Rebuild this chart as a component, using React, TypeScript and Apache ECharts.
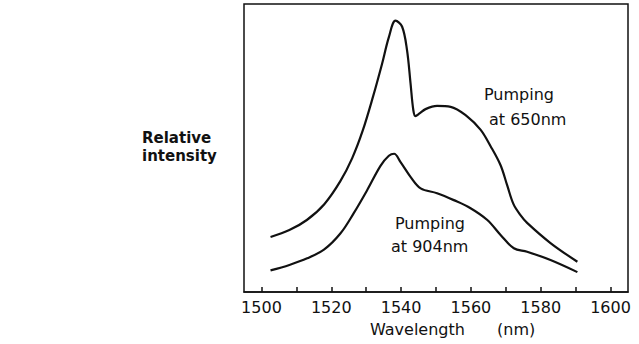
import React, { useEffect, useRef } from "react";
import * as echarts from "echarts";

const wavelength650 = [1502.6, 1508.0, 1513.0, 1518.0, 1522.6, 1526.0, 1529.0, 1532.0, 1534.5, 1536.5, 1538.4, 1540.3, 1541.7, 1542.7, 1543.5, 1544.1, 1545.3, 1547.0, 1550.3, 1554.2, 1558.9, 1562.8, 1565.6, 1568.5, 1570.4, 1572.2, 1574.2, 1576.1, 1582.8, 1590.5];
const intensity650 = [19.1, 21.5, 25.0, 30.5, 38.5, 46.5, 56.0, 68.0, 79.0, 88.5, 94.2, 92.1, 84.0, 72.5, 63.2, 61.1, 62.0, 63.5, 64.6, 64.3, 61.0, 56.3, 50.7, 44.0, 37.0, 30.5, 26.7, 24.0, 17.0, 10.5];
const wavelength904 = [1502.6, 1508.0, 1513.1, 1518.0, 1522.6, 1526.4, 1530.3, 1534.1, 1536.5, 1538.0, 1539.8, 1542.7, 1545.6, 1550.3, 1555.1, 1559.9, 1564.7, 1568.5, 1572.3, 1576.1, 1582.8, 1590.5];
const intensity904 = [7.5, 9.4, 11.7, 14.8, 20.3, 27.3, 35.4, 43.8, 47.3, 48.0, 45.2, 40.0, 36.0, 34.3, 31.9, 29.1, 25.0, 19.8, 15.2, 14.0, 11.1, 6.9];
const tickValues = [1500, 1510, 1520, 1530, 1540, 1550, 1560, 1570, 1580, 1590, 1600];
const labelValues = [1500, 1520, 1540, 1560, 1580, 1600];

const FONT = "DejaVu Sans";
const INK = "#111";

export default function App() {
  const ref = useRef<HTMLDivElement>(null);
  useEffect(() => {
    document.body.style.margin = "0";
    if (!ref.current) return;
    const chart = echarts.init(ref.current, null, { renderer: "svg" });
    const lineStyle = { color: INK, width: 2.2 };
    const txt = (x: number, y: number, text: string, size: number, weight: string = "normal") => ({
      type: "text",
      x,
      y,
      style: { text, fill: INK, font: `${weight} ${size}px "${FONT}"`, textVerticalAlign: "top", textAlign: "left" },
    });
    chart.setOption({
      animation: false,
      grid: { left: 244, right: 11, top: 4, bottom: 52, show: true, borderColor: INK, borderWidth: 1.5 },
      xAxis: {
        type: "value",
        min: 1495,
        max: 1605,
        axisLine: { show: true, lineStyle: { color: INK, width: 1.5 } },
        axisTick: { show: true, inside: true, length: 5, customValues: tickValues, lineStyle: { color: INK, width: 1.5 } },
        axisLabel: {
          customValues: labelValues,
          color: INK,
          fontFamily: FONT,
          fontSize: 16,
          margin: 7,
          formatter: (v: number) => String(v),
        },
        splitLine: { show: false },
      },
      yAxis: { type: "value", min: 0, max: 100, show: false, splitLine: { show: false } },
      series: [
        {
          type: "line",
          name: "Pumping at 650nm",
          data: wavelength650.map((w, i) => [w, intensity650[i]]),
          smooth: 0.35,
          showSymbol: false,
          lineStyle,
        },
        {
          type: "line",
          name: "Pumping at 904nm",
          data: wavelength904.map((w, i) => [w, intensity904[i]]),
          smooth: 0.35,
          showSymbol: false,
          lineStyle,
        },
      ],
      graphic: [
        txt(484, 86, "Pumping", 16),
        txt(489, 111, "at 650nm", 16),
        txt(395, 215, "Pumping", 16),
        txt(391, 238, "at 904nm", 16),
        txt(142, 130, "Relative", 15, "bold"),
        txt(142, 148, "intensity", 15, "bold"),
        txt(370, 321, "Wavelength", 16),
        txt(497, 321, "(nm)", 16),
      ],
    });
    return () => chart.dispose();
  }, []);
  return <div ref={ref} style={{ width: 639, height: 344 }} />;
}
